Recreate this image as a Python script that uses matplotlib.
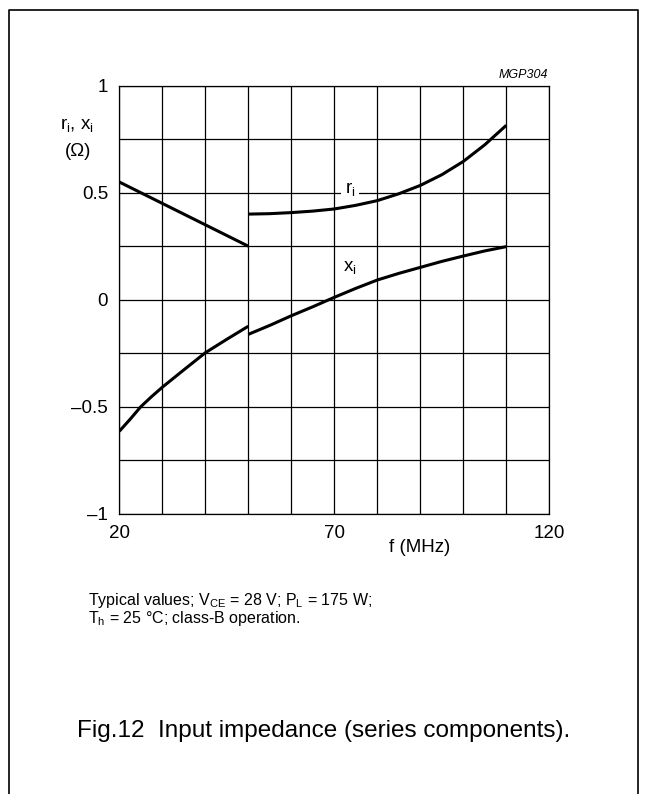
import matplotlib.pyplot as plt
from matplotlib.lines import Line2D

plt.rcParams['font.family'] = ['Liberation Sans', 'DejaVu Sans']
plt.rcParams['mathtext.fontset'] = 'custom'
plt.rcParams['mathtext.rm'] = 'Liberation Sans'

# Data (f in MHz, impedance in ohm)
f_r_low = [20, 50]
r_low = [0.55, 0.25]
f_r_high = [50, 55, 60, 65, 70, 75, 80, 85, 90, 95, 100, 105, 110]
r_high = [0.40, 0.402, 0.407, 0.414, 0.424, 0.441, 0.463, 0.495, 0.534, 0.584, 0.646, 0.724, 0.815]
f_x_low = [20, 22.5, 25, 27.5, 30, 35, 40, 45, 50]
x_low = [-0.615, -0.559, -0.50, -0.453, -0.409, -0.328, -0.248, -0.185, -0.124]
f_x_high = [50, 55, 60, 65, 70, 75, 80, 85, 90, 95, 100, 105, 110]
x_high = [-0.162, -0.12, -0.075, -0.033, 0.011, 0.053, 0.092, 0.123, 0.151, 0.179, 0.204, 0.228, 0.248]

x_ticks = [20, 70, 120]
y_ticks = [-1, -0.5, 0, 0.5, 1]
y_tick_labels = ['\u20131', '\u20130.5', '0', '0.5', '1']

fig = plt.figure(figsize=(6.51, 7.94), dpi=100)
ax = fig.add_axes([119.3 / 651, 1 - 513.7 / 794, 430 / 651, 428 / 794])

# grid
for xv in range(20, 121, 10):
    ax.axvline(xv, color='black', lw=0.9, zorder=1)
for yv in [-1 + 0.25 * i for i in range(9)]:
    ax.axhline(yv, color='black', lw=0.9, zorder=1)

for f, v in [(f_r_low, r_low), (f_r_high, r_high), (f_x_low, x_low), (f_x_high, x_high)]:
    ax.plot(f, v, color='black', lw=2.2, solid_capstyle='butt', solid_joinstyle='round', zorder=3)

ax.text(73.6, 0.515, r'r$_\mathregular{i}$', fontsize=13.5, ha='center', va='center',
        bbox=dict(facecolor='white', edgecolor='none', pad=2.5), zorder=4)
ax.text(73.6, 0.145, r'x$_\mathregular{i}$', fontsize=13.5, ha='center', va='center', zorder=4)

ax.set_xlim(20, 120)
ax.set_ylim(-1, 1)
ax.set_xticks(x_ticks)
ax.set_yticks(y_ticks)
ax.set_yticklabels(y_tick_labels)
ax.tick_params(length=0, labelsize=13.5, pad=8)
for s in ax.spines.values():
    s.set_linewidth(0.9)

fig.text(77 / 651, 1 - 126 / 794, r'r$_\mathregular{i}$, x$_\mathregular{i}$', fontsize=13.5,
         ha='center', va='center')
fig.text(78 / 651, 1 - 151 / 794, '(\u03a9)', fontsize=13.5, ha='center', va='center')
fig.text(420 / 651, 1 - 547 / 794, 'f (MHz)', fontsize=13.5, ha='center', va='center')
fig.text(548 / 651, 1 - 75 / 794, 'MGP304', fontsize=9, style='italic', ha='right', va='center')

fig.text(88 / 651, 1 - 600 / 794,
         'Typical values; V$_\\mathregular{CE}$ = 28 V; P$_\\mathregular{L}$ = 175 W;',
         fontsize=11.5, ha='left', va='center')
fig.text(88 / 651, 1 - 619 / 794,
         'T$_\\mathregular{h}$ = 25 \u00b0C; class-B operation.',
         fontsize=11.5, ha='left', va='center')
fig.text(324 / 651, 1 - 731 / 794, 'Fig.12  Input impedance (series components).',
         fontsize=17.5, ha='center', va='center')

# outer frame, open at the bottom
fx = [9 / 651, 9 / 651, 638 / 651, 638 / 651]
fy = [0, 1 - 10 / 794, 1 - 10 / 794, 0]
fig.add_artist(Line2D(fx, fy, transform=fig.transFigure, color='black', lw=1.2))

fig.savefig('out.png', dpi=100)
